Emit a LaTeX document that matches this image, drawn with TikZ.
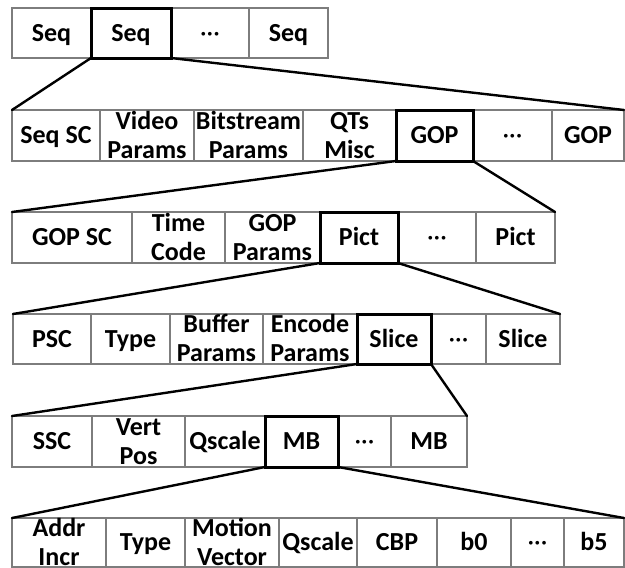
\documentclass[tikz,border=0pt]{standalone}
\usepackage{fontspec}
\setmainfont{Carlito}
\definecolor{thinline}{RGB}{125,125,125}
\tikzset{
  cell/.style={draw=thinline, line width=1.1pt, rectangle, inner sep=0pt, outer sep=0pt,
    font=\fontsize{26}{29}\selectfont\bfseries, text=black},
  focus/.style={draw=black, line width=3pt},
  zoomline/.style={draw=black, line width=2.4pt, line cap=round}
}
% stacked lines whose box runs from the cap line of the first line
% down to the baseline of the last one, so cells centre on the letters
\newsavebox{\fieldbox}
\newcommand{\fieldtext}[1]{%
  \sbox{\fieldbox}{\begin{tabular}[b]{@{}c@{}}#1\end{tabular}}%
  \ht\fieldbox=\dimexpr\ht\fieldbox-0.7\baselineskip+0.644em\relax
  \dp\fieldbox=0pt
  \usebox{\fieldbox}}
% one cell of the current row: [options]{name}{left x}{right x}{text}
\newcommand{\fieldcell}[5][]{%
  \node[cell,#1,minimum width={(#4-#3)*1pt},minimum height={(\rowbot-\rowtop)*1pt}]
    (#2) at ({(#3+#4)/2},{(\rowtop+\rowbot)/2}) {\fieldtext{#5}};}
\newcommand{\mdots}{{\mdseries\textperiodcentered\textperiodcentered\textperiodcentered}}
\begin{document}
\begin{tikzpicture}[x=1pt,y=-1pt]
\useasboundingbox (0,0) rectangle (625,568);

% sequence layer
\def\rowtop{8}\def\rowbot{58}
\fieldcell{a1}{12}{91}{Seq}
\fieldcell{a3}{171}{249}{\mdots}
\fieldcell{a4}{249}{328}{Seq}
\fieldcell[focus]{a2}{91}{171}{Seq}

% sequence header and GOPs
\def\rowtop{110}\def\rowbot{161}
\fieldcell{b1}{12}{100}{Seq SC}
\fieldcell{b2}{100}{194}{Video\\Params}
\fieldcell{b3}{194}{303}{Bitstream\\Params}
\fieldcell{b4}{303}{396}{QTs\\Misc}
\fieldcell{b6}{473}{552}{\mdots}
\fieldcell{b7}{552}{624}{GOP}
\fieldcell[focus]{b5}{396}{473}{GOP}

% GOP layer
\def\rowtop{212}\def\rowbot{263}
\fieldcell{c1}{12}{132}{GOP SC}
\fieldcell{c2}{132}{225}{Time\\Code}
\fieldcell{c3}{225}{320}{GOP\\Params}
\fieldcell{c5}{398}{476}{\mdots}
\fieldcell{c6}{476}{555}{Pict}
\fieldcell[focus]{c4}{320}{398}{Pict}

% picture layer
\def\rowtop{314}\def\rowbot{364}
\fieldcell{d1}{13}{91}{PSC}
\fieldcell{d2}{91}{170}{Type}
\fieldcell{d3}{170}{263}{Buffer\\Params}
\fieldcell{d4}{263}{357}{Encode\\Params}
\fieldcell{d6}{431}{486}{\mdots}
\fieldcell{d7}{486}{560}{Slice}
\fieldcell[focus]{d5}{357}{431}{Slice}

% slice layer
\def\rowtop{416}\def\rowbot{467}
\fieldcell{e1}{12}{92}{SSC}
\fieldcell{e2}{92}{185}{Vert\\Pos}
\fieldcell{e3}{185}{265}{Qscale}
\fieldcell{e5}{338}{391}{\mdots}
\fieldcell{e6}{391}{467}{MB}
\fieldcell[focus]{e4}{265}{338}{MB}

% macroblock layer
\def\rowtop{518}\def\rowbot{567}
\fieldcell{f1}{12}{106}{Addr\\Incr}
\fieldcell{f2}{106}{185}{Type}
\fieldcell{f3}{185}{279}{Motion\\Vector}
\fieldcell{f4}{279}{357}{Qscale}
\fieldcell{f5}{357}{437}{CBP}
\fieldcell{f6}{437}{511}{b0}
\fieldcell{f7}{511}{564}{\mdots}
\fieldcell{f8}{564}{624}{b5}

% expansion lines
\draw[zoomline] (a2.south west) -- (b1.north west);
\draw[zoomline] (a2.south east) -- (b7.north east);
\draw[zoomline] (b5.south west) -- (c1.north west);
\draw[zoomline] (b5.south east) -- (c6.north east);
\draw[zoomline] (c4.south west) -- (d1.north west);
\draw[zoomline] (c4.south east) -- (d7.north east);
\draw[zoomline] (d5.south west) -- (e1.north west);
\draw[zoomline] (d5.south east) -- (e6.north east);
\draw[zoomline] (e4.south west) -- (f1.north west);
\draw[zoomline] (e4.south east) -- (f8.north east);
\end{tikzpicture}
\end{document}
